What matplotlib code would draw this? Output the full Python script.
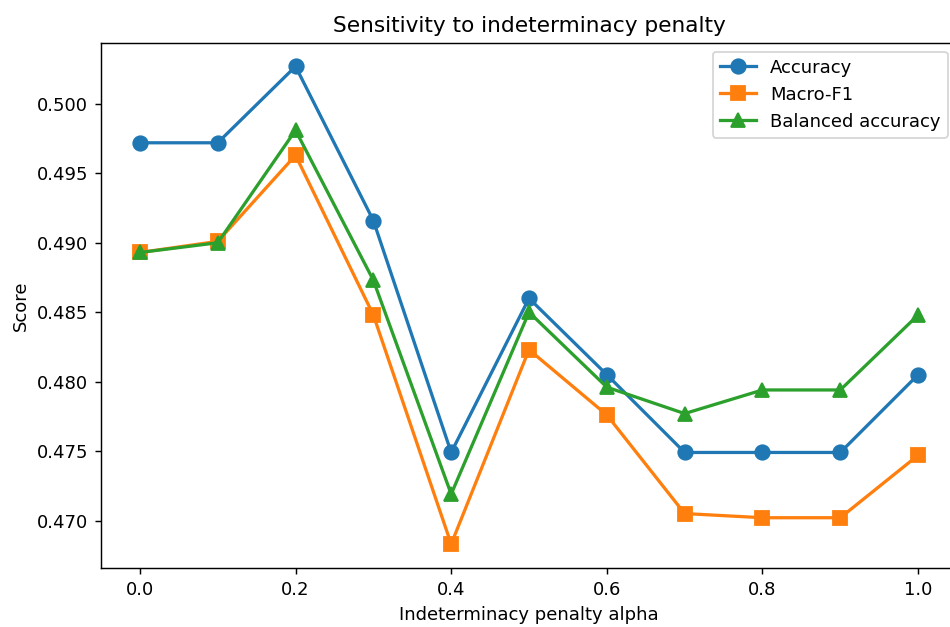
import numpy as np
import matplotlib
matplotlib.use('Agg')
import matplotlib.pyplot as plt

# valores
alpha = [0.0, 0.1, 0.2, 0.3, 0.4, 0.5, 0.6, 0.7, 0.8, 0.9, 1.0]
accuracy = [0.4972, 0.4972, 0.5027, 0.4916, 0.4749, 0.4860, 0.4805, 0.4749, 0.4749, 0.4749, 0.4805]
macro_f1 = [0.4893, 0.4901, 0.4963, 0.4848, 0.4683, 0.4823, 0.4776, 0.4705, 0.4702, 0.4702, 0.4747]
balanced_acc = [0.4893, 0.4900, 0.4981, 0.4873, 0.4719, 0.4850, 0.4796, 0.4777, 0.4794, 0.4794, 0.4848]

fig = plt.figure(figsize=(950 / 130, 627 / 130), dpi=130)
# eixo ligeiramente cortado à direita, como na figura original
ax = fig.add_axes([0.1063, 0.0941, 0.9011, 0.8381])
ax.plot(alpha, accuracy, marker='o', markersize=8, linewidth=1.8, label='Accuracy')
ax.plot(alpha, macro_f1, marker='s', markersize=8, linewidth=1.8, label='Macro-F1')
ax.plot(alpha, balanced_acc, marker='^', markersize=8, linewidth=1.8, label='Balanced accuracy')
ax.set_xlabel('Indeterminacy penalty alpha')
ax.set_ylabel('Score')
ax.set_title('Sensitivity to indeterminacy penalty')
ax.legend()

plt.savefig('out.png', dpi=130)
